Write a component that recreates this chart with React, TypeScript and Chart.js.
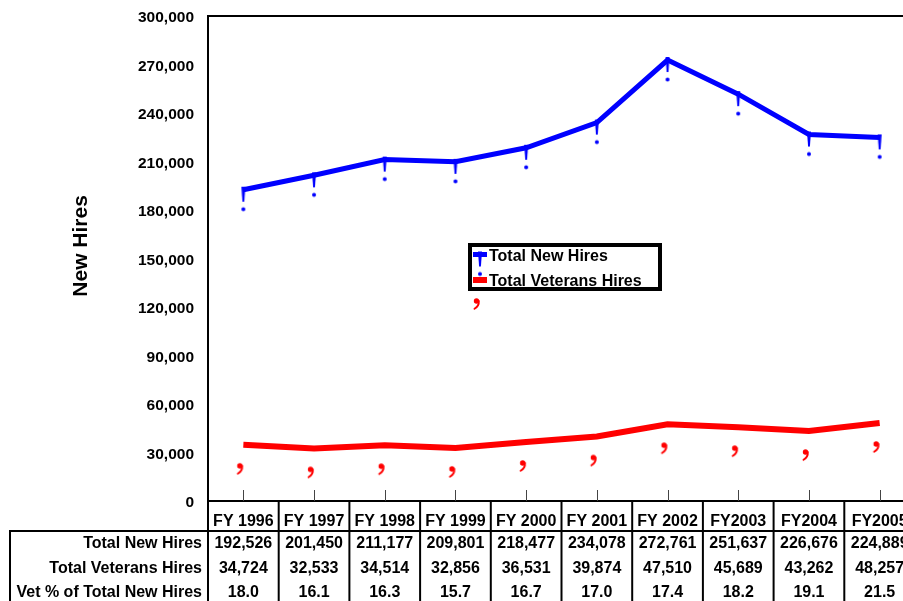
import React, { useEffect, useRef } from 'react';
import { Chart, registerables } from 'chart.js';

Chart.register(...registerables);

// ---- data ----
const categories = ['FY 1996', 'FY 1997', 'FY 1998', 'FY 1999', 'FY 2000', 'FY 2001', 'FY 2002', 'FY2003', 'FY2004', 'FY2005'];
const newHires = [192526, 201450, 211177, 209801, 218477, 234078, 272761, 251637, 226676, 224889];
const vetHires = [34724, 32533, 34514, 32856, 36531, 39874, 47510, 45689, 43262, 48257];
const vetPct = ['18.0', '16.1', '16.3', '15.7', '16.7', '17.0', '17.4', '18.2', '19.1', '21.5'];
const seriesLabels = ['Total New Hires', 'Total Veterans Hires'];
const tableRowLabels = ['Total New Hires', 'Total Veterans Hires', 'Vet % of Total New Hires'];
const yAxisTitle = 'New Hires';
const yMin = 0;
const yMax = 300000;
const yStep = 30000;

const FONT = '"Liberation Sans", Arial, Helvetica, sans-serif';
const BLUE = '#0000FF';
const RED = '#FF0000';

const fmt = (v: number) => v.toLocaleString('en-US');

function makeBang(color: string): HTMLCanvasElement {
  const c = document.createElement('canvas');
  c.width = 16;
  c.height = 48;
  const g = c.getContext('2d')!;
  const cx = 8, cy = 24;
  g.fillStyle = color;
  g.beginPath();
  g.moveTo(cx - 2, cy - 3);
  g.lineTo(cx + 2, cy - 3);
  g.lineTo(cx + 0.9, cy + 12);
  g.lineTo(cx - 0.9, cy + 12);
  g.closePath();
  g.fill();
  g.beginPath();
  g.arc(cx, cy + 19.5, 2, 0, Math.PI * 2);
  g.fill();
  return c;
}

function makeComma(color: string): HTMLCanvasElement {
  const c = document.createElement('canvas');
  c.width = 20;
  c.height = 64;
  const g = c.getContext('2d')!;
  const cx = 10, cy = 32;
  const hx = cx - 3.5, hy = cy + 21;
  g.fillStyle = color;
  g.strokeStyle = color;
  g.beginPath();
  g.arc(hx, hy, 2.7, 0, Math.PI * 2);
  g.fill();
  g.lineWidth = 1.9;
  g.lineCap = 'round';
  g.beginPath();
  g.moveTo(hx + 2.3, hy);
  g.quadraticCurveTo(hx + 2.7, hy + 5, hx - 2, hy + 7.8);
  g.stroke();
  return c;
}

export default function App() {
  const ref = useRef<HTMLCanvasElement | null>(null);

  useEffect(() => {
    if (!ref.current) return;
    const bang = makeBang(BLUE);
    const comma = makeComma(RED);
    const glyphs = [bang, comma];
    const widths = [5, 6];

    const line = (ctx: CanvasRenderingContext2D, x1: number, y1: number, x2: number, y2: number) => {
      ctx.beginPath();
      ctx.moveTo(x1, y1);
      ctx.lineTo(x2, y2);
      ctx.stroke();
    };

    const decor = {
      id: 'decor',
      afterDatasetsDraw(chart: any) {
        const { ctx, chartArea: a } = chart;
        // legend
        const bx = Math.round(a.left + 0.3706 * (a.right - a.left));
        const by = Math.round(a.top + 0.472 * (a.bottom - a.top));
        const bw = 190, bh = 44;
        ctx.save();
        ctx.fillStyle = '#fff';
        ctx.fillRect(bx, by, bw, bh);
        ctx.lineWidth = 4;
        ctx.strokeStyle = '#000';
        ctx.strokeRect(bx, by, bw, bh);
        chart.data.datasets.forEach((ds: any, i: number) => {
          const ly = by + 9.5 + i * 25.5;
          ctx.strokeStyle = ds.borderColor;
          ctx.lineWidth = widths[i];
          line(ctx, bx + 3, ly, bx + 17, ly);
          ctx.font = `bold 16px ${FONT}`;
          ctx.fillStyle = '#000';
          ctx.textAlign = 'left';
          ctx.textBaseline = 'alphabetic';
          ctx.fillText(ds.label, bx + 19, ly + 6);
        });
        chart.data.datasets.forEach((ds: any, i: number) => {
          const ly = by + 9.5 + i * 25.5;
          const g = glyphs[i];
          ctx.drawImage(g, bx + 10 - g.width / 2, ly - g.height / 2);
        });
        ctx.restore();
      },
      afterDraw(chart: any) {
        const { ctx, chartArea: a, scales } = chart;
        const x = scales.x;
        const n = categories.length;
        const cw = (a.right - a.left) / n;
        const top = a.bottom;
        const bottom = chart.height;
        const tableLeft = 10;
        ctx.save();
        // top border of plot
        ctx.strokeStyle = '#000';
        ctx.lineWidth = 2;
        line(ctx, a.left - 1, a.top, a.right, a.top);
        // tick marks
        ctx.strokeStyle = '#444';
        ctx.lineWidth = 1;
        for (let i = 0; i < n; i++) {
          const px = Math.round(x.getPixelForValue(i)) + 0.5;
          line(ctx, px, a.bottom - 11, px, a.bottom);
        }
        // table grid
        ctx.strokeStyle = '#000';
        ctx.lineWidth = 2;
        line(ctx, tableLeft, top + 30, a.right, top + 30);
        line(ctx, tableLeft, top + 29, tableLeft, bottom);
        for (let i = 0; i <= n; i++) {
          const xx = a.left + i * cw;
          line(ctx, xx, top, xx, bottom);
        }
        // texts
        ctx.fillStyle = '#000';
        ctx.font = `bold 16px ${FONT}`;
        ctx.textBaseline = 'alphabetic';
        ctx.textAlign = 'center';
        const rowsBase = [top + 47, top + 72, top + 96];
        const rows = [newHires.map(fmt), vetHires.map(fmt), vetPct];
        categories.forEach((c, i) => {
          const cx = x.getPixelForValue(i);
          ctx.fillText(c, cx, top + 25);
          rows.forEach((r, k) => ctx.fillText(r[i], cx, rowsBase[k]));
        });
        ctx.textAlign = 'right';
        tableRowLabels.forEach((t, k) => ctx.fillText(t, a.left - 6, rowsBase[k]));
        // y axis title
        ctx.save();
        ctx.translate(a.left - 121, a.top + 0.474 * (a.bottom - a.top));
        ctx.rotate(-Math.PI / 2);
        ctx.font = `bold 21px ${FONT}`;
        ctx.textAlign = 'center';
        ctx.fillText(yAxisTitle, 0, 0);
        ctx.restore();
        ctx.restore();
      },
    };

    const chart = new Chart(ref.current, {
      type: 'line',
      data: {
        labels: categories,
        datasets: [
          {
            label: seriesLabels[0],
            data: newHires,
            borderColor: BLUE,
            backgroundColor: BLUE,
            borderWidth: 5,
            tension: 0,
            pointStyle: bang as any,
            pointRadius: 3,
            fill: false,
          },
          {
            label: seriesLabels[1],
            data: vetHires,
            borderColor: RED,
            backgroundColor: RED,
            borderWidth: 6,
            tension: 0,
            pointStyle: comma as any,
            pointRadius: 3,
            fill: false,
          },
        ],
      },
      options: {
        responsive: false,
        animation: false,
        devicePixelRatio: 1,
        layout: { padding: { top: 16, right: 3, left: 0, bottom: 0 } },
        plugins: { legend: { display: false }, tooltip: { enabled: false }, title: { display: false } },
        scales: {
          x: {
            type: 'category',
            offset: true,
            grid: { display: false, drawTicks: false },
            ticks: { display: false },
            border: { display: true, color: '#000', width: 2 },
            afterFit: (s: any) => { s.height = 100; },
          },
          y: {
            min: yMin,
            max: yMax,
            grid: { display: false, drawTicks: false },
            border: { display: true, color: '#000', width: 2 },
            ticks: {
              stepSize: yStep,
              padding: 14,
              labelOffset: 2,
              color: '#000',
              font: { family: FONT, size: 15.5, weight: 'bold' },
              callback: (v: any) => fmt(Number(v)),
            },
            afterFit: (s: any) => {
              s.width = 208;
              s.paddingTop = 0;
              s.paddingBottom = 0;
            },
          },
        },
      },
      plugins: [decor],
    } as any);

    return () => chart.destroy();
  }, []);

  return (
    <div style={{ position: 'fixed', left: 0, top: 0, width: 903, height: 601, overflow: 'hidden', background: '#fff' }}>
      <canvas ref={ref} width={925} height={601} style={{ display: 'block' }} />
    </div>
  );
}
